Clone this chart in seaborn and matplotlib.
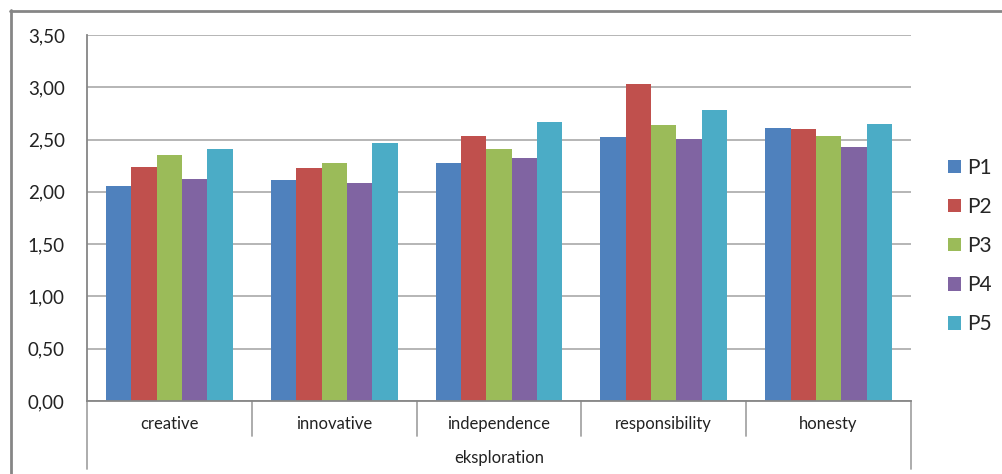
import matplotlib
matplotlib.use("Agg")
import matplotlib.pyplot as plt
import matplotlib.transforms as mtransforms
from matplotlib.lines import Line2D
import seaborn as sns
import pandas as pd

categories = ["creative", "innovative", "independence", "responsibility", "honesty"]
series_names = ["P1", "P2", "P3", "P4", "P5"]
p1 = [2.06, 2.11, 2.28, 2.52, 2.61]
p2 = [2.24, 2.23, 2.53, 3.03, 2.60]
p3 = [2.35, 2.28, 2.41, 2.64, 2.53]
p4 = [2.12, 2.08, 2.32, 2.51, 2.43]
p5 = [2.41, 2.47, 2.67, 2.78, 2.65]
group_label = "eksploration"
y_ticks = [0.0, 0.5, 1.0, 1.5, 2.0, 2.5, 3.0, 3.5]
y_tick_labels = ["0,00", "0,50", "1,00", "1,50", "2,00", "2,50", "3,00", "3,50"]
colors = ["#4F81BD", "#C0504D", "#9BBB59", "#8064A2", "#4BACC6"]

rows = []
for name, vals in zip(series_names, [p1, p2, p3, p4, p5]):
    for c, v in zip(categories, vals):
        rows.append({"category": c, "series": name, "value": v})
df = pd.DataFrame(rows)

sns.set_style("white")
plt.rcParams["font.family"] = ["Lato", "DejaVu Sans"]

W, H = 1003, 474
fig = plt.figure(figsize=(W / 100, H / 100), dpi=100)
L, R, T, B = 87, 911, 35, 401
ax = fig.add_axes([L / W, 1 - B / H, (R - L) / W, (B - T) / H])

sns.barplot(data=df, x="category", y="value", hue="series", order=categories,
            hue_order=series_names, palette=colors, width=0.77, gap=0,
            saturation=1, errorbar=None, ax=ax, legend=True, linewidth=0)

grey = "#868686"
ax.set_ylim(0, 3.5)
ax.set_xlim(-0.5, len(categories) - 0.5)
ax.set_yticks(y_ticks)
ax.set_yticklabels(y_tick_labels)
ax.yaxis.grid(True, color="#B0B0B0", linewidth=1.3)
ax.set_axisbelow(True)
for s in ["top", "right"]:
    ax.spines[s].set_visible(False)
for s in ["left", "bottom"]:
    ax.spines[s].set_color(grey)
    ax.spines[s].set_linewidth(1.3)
ax.tick_params(axis="y", length=5, color=grey, width=1.3, labelsize=13.5,
               labelcolor="#222222", pad=11)
ax.tick_params(axis="x", length=0, labelsize=12, labelcolor="#222222", pad=11)
ax.set_xlabel("")
ax.set_ylabel("")

# category separators
trans = mtransforms.blended_transform_factory(ax.transData, ax.transAxes)
h_ax = B - T
for i in range(len(categories) + 1):
    x = i - 0.5
    if i == 0 or i == len(categories):
        y0 = -(469 - B) / h_ax
    else:
        y0 = -(436 - B) / h_ax
    ax.add_line(Line2D([x, x], [0, y0], transform=trans, color="#A6A6A6",
                       linewidth=1.3, clip_on=False))

ax.text(0.5, -(458 - B) / h_ax, group_label, transform=ax.transAxes,
        ha="center", va="center", fontsize=12, color="#222222")

# legend
handles, labels = ax.get_legend_handles_labels()
ax.legend(handles, labels, loc="center left",
          bbox_to_anchor=(948 / W, 1 - 246 / H), bbox_transform=fig.transFigure,
          frameon=False, fontsize=15, handlelength=0.62, handleheight=0.62,
          handletextpad=0.3, labelspacing=0.92, borderpad=0, borderaxespad=0)

# outer chart border (partially visible)
fig.add_artist(Line2D([10 / W, 1], [1 - 10.5 / H, 1 - 10.5 / H],
                      transform=fig.transFigure, color=grey, linewidth=2))
fig.add_artist(Line2D([10.5 / W, 10.5 / W], [1 - 10 / H, 0],
                      transform=fig.transFigure, color=grey, linewidth=2))

fig.savefig("out.png", dpi=100)
